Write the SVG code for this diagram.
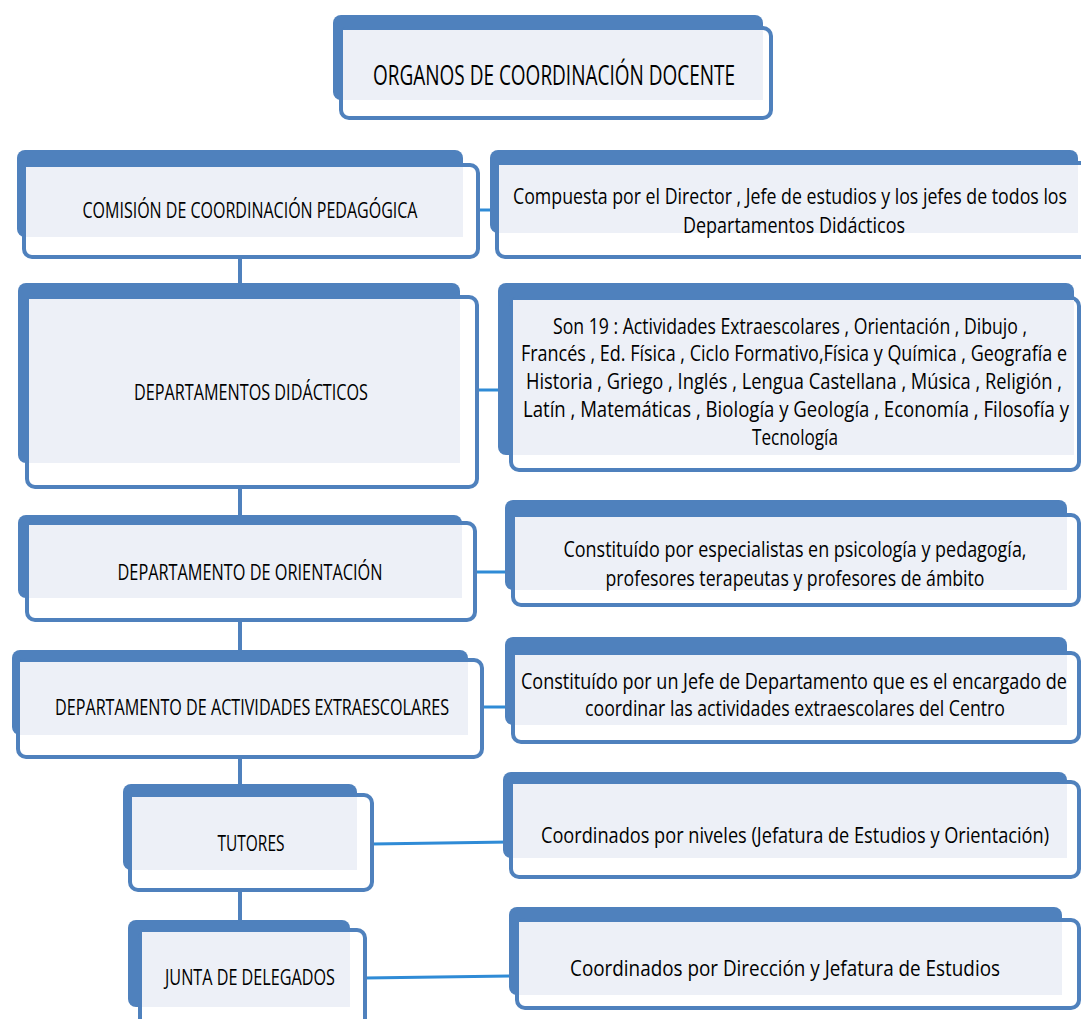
<svg xmlns="http://www.w3.org/2000/svg" width="1081" height="1019" viewBox="0 0 1081 1019">
<style>
.bk{fill:#4f81bd}
.fr{fill:#fff;stroke:#4f81bd;stroke-width:4}
.in{fill:#edf0f7}
.t{font-family:"Open Sans","Liberation Sans",sans-serif;font-size:21px;fill:#000;text-anchor:middle}
.v{stroke:#4f81bd;stroke-width:4}
.h{stroke:#2f8bd6;stroke-width:3}
</style>
<rect width="1081" height="1019" fill="#fff"/>
<g id="connectors">
<line class="v" x1="240" y1="255" x2="240" y2="285"/>
<line class="v" x1="240" y1="485" x2="240" y2="517"/>
<line class="v" x1="240" y1="618" x2="240" y2="652"/>
<line class="v" x1="240" y1="755" x2="240" y2="786"/>
<line class="v" x1="240" y1="888" x2="240" y2="922"/>
<line class="h" x1="478" y1="210" x2="497" y2="210"/>
<line class="h" x1="477" y1="390" x2="511" y2="390"/>
<line class="h" x1="475" y1="572" x2="513" y2="572"/>
<line class="h" x1="482" y1="707" x2="513" y2="707"/>
<line class="h" x1="372" y1="844" x2="511" y2="842"/>
<line class="h" x1="365" y1="978" x2="517" y2="976"/>
</g>
<g id="title">
<rect class="bk" x="333" y="15" width="430" height="85" rx="8"/>
<rect class="fr" x="341" y="28" width="430" height="90" rx="8"/>
<rect class="in" x="343" y="30" width="420" height="70"/>
<text class="t" x="554" y="85" textLength="362" lengthAdjust="spacingAndGlyphs" style="font-size:28px">ORGANOS DE COORDINACIÓN DOCENTE</text>
</g>
<g id="n1">
<rect class="bk" x="17" y="150" width="446" height="87" rx="8"/>
<rect class="fr" x="24" y="165" width="454" height="92" rx="8"/>
<rect class="in" x="26" y="167" width="437" height="70"/>
<text class="t" x="250" y="218" textLength="335" lengthAdjust="spacingAndGlyphs">COMISIÓN DE COORDINACIÓN PEDAGÓGICA</text>
</g>
<g id="n2">
<rect class="bk" x="18" y="283" width="442" height="180" rx="8"/>
<rect class="fr" x="27" y="297" width="450" height="190" rx="8"/>
<rect class="in" x="29" y="299" width="431" height="164"/>
<text class="t" x="251" y="400" textLength="234" lengthAdjust="spacingAndGlyphs">DEPARTAMENTOS DIDÁCTICOS</text>
</g>
<g id="n3">
<rect class="bk" x="18" y="515" width="444" height="83" rx="8"/>
<rect class="fr" x="27" y="523" width="448" height="97" rx="8"/>
<rect class="in" x="29" y="525" width="433" height="73"/>
<text class="t" x="250" y="580" textLength="265" lengthAdjust="spacingAndGlyphs">DEPARTAMENTO DE ORIENTACIÓN</text>
</g>
<g id="n4">
<rect class="bk" x="12" y="650" width="456" height="85" rx="8"/>
<rect class="fr" x="18" y="660" width="464" height="97" rx="8"/>
<rect class="in" x="20" y="662" width="448" height="73"/>
<text class="t" x="252" y="715" textLength="394" lengthAdjust="spacingAndGlyphs">DEPARTAMENTO DE ACTIVIDADES EXTRAESCOLARES</text>
</g>
<g id="n5">
<rect class="bk" x="123" y="784" width="234" height="86" rx="8"/>
<rect class="fr" x="130" y="795" width="242" height="95" rx="8"/>
<rect class="in" x="132" y="797" width="225" height="73"/>
<text class="t" x="251" y="851" textLength="67" lengthAdjust="spacingAndGlyphs">TUTORES</text>
</g>
<g id="n6">
<rect class="bk" x="128" y="920" width="222" height="87" rx="8"/>
<rect class="fr" x="140" y="930" width="225" height="110" rx="8"/>
<rect class="in" x="142" y="932" width="208" height="75"/>
<text class="t" x="250" y="985" textLength="170" lengthAdjust="spacingAndGlyphs">JUNTA DE DELEGADOS</text>
</g>
<g id="r1">
<rect class="bk" x="490" y="150" width="588" height="83" rx="8"/>
<rect class="fr" x="497" y="163" width="600" height="94" rx="8"/>
<rect class="in" x="499" y="165" width="579" height="68"/>
<text class="t" x="790" y="204" textLength="554" lengthAdjust="spacingAndGlyphs">Compuesta por el Director , Jefe de estudios y los jefes de todos los</text>
<text class="t" x="794" y="233" textLength="222" lengthAdjust="spacingAndGlyphs">Departamentos Didácticos</text>
</g>
<g id="r2">
<rect class="bk" x="498" y="283" width="576" height="172" rx="8"/>
<rect class="fr" x="511" y="298" width="568" height="172" rx="8"/>
<rect class="in" x="513" y="300" width="561" height="155"/>
<text class="t" x="790" y="334" textLength="474" lengthAdjust="spacingAndGlyphs">Son 19 : Actividades Extraescolares , Orientación , Dibujo ,</text>
<text class="t" x="794" y="361" textLength="546" lengthAdjust="spacingAndGlyphs">Francés , Ed. Física , Ciclo Formativo,Física y Química , Geografía e</text>
<text class="t" x="794" y="389" textLength="536" lengthAdjust="spacingAndGlyphs">Historia , Griego , Inglés , Lengua Castellana , Música , Religión ,</text>
<text class="t" x="796" y="417" textLength="546" lengthAdjust="spacingAndGlyphs">Latín , Matemáticas ,  Biología y Geología , Economía , Filosofía y</text>
<text class="t" x="795" y="445" textLength="86" lengthAdjust="spacingAndGlyphs">Tecnología</text>
</g>
<g id="r3">
<rect class="bk" x="505" y="500" width="562" height="90" rx="8"/>
<rect class="fr" x="513" y="515" width="566" height="90" rx="8"/>
<rect class="in" x="515" y="517" width="552" height="73"/>
<text class="t" x="795" y="557" textLength="463" lengthAdjust="spacingAndGlyphs">Constituído por especialistas en psicología y pedagogía,</text>
<text class="t" x="795" y="586" textLength="379" lengthAdjust="spacingAndGlyphs">profesores terapeutas y profesores de ámbito</text>
</g>
<g id="r4">
<rect class="bk" x="505" y="637" width="562" height="88" rx="8"/>
<rect class="fr" x="513" y="653" width="566" height="89" rx="8"/>
<rect class="in" x="515" y="655" width="552" height="70"/>
<text class="t" x="794" y="689" textLength="546" lengthAdjust="spacingAndGlyphs">Constituído por un Jefe de Departamento que es el encargado de</text>
<text class="t" x="795" y="716" textLength="420" lengthAdjust="spacingAndGlyphs">coordinar las actividades extraescolares del Centro</text>
</g>
<g id="r5">
<rect class="bk" x="503" y="772" width="564" height="86" rx="8"/>
<rect class="fr" x="511" y="782" width="568" height="95" rx="8"/>
<rect class="in" x="513" y="784" width="554" height="74"/>
<text class="t" x="795" y="843" textLength="508" lengthAdjust="spacingAndGlyphs">Coordinados por niveles (Jefatura de Estudios y Orientación)</text>
</g>
<g id="r6">
<rect class="bk" x="509" y="907" width="553" height="88" rx="8"/>
<rect class="fr" x="517" y="920" width="562" height="88" rx="8"/>
<rect class="in" x="519" y="922" width="543" height="73"/>
<text class="t" x="785" y="976" textLength="430" lengthAdjust="spacingAndGlyphs">Coordinados por Dirección y Jefatura de Estudios</text>
</g>
</svg>
